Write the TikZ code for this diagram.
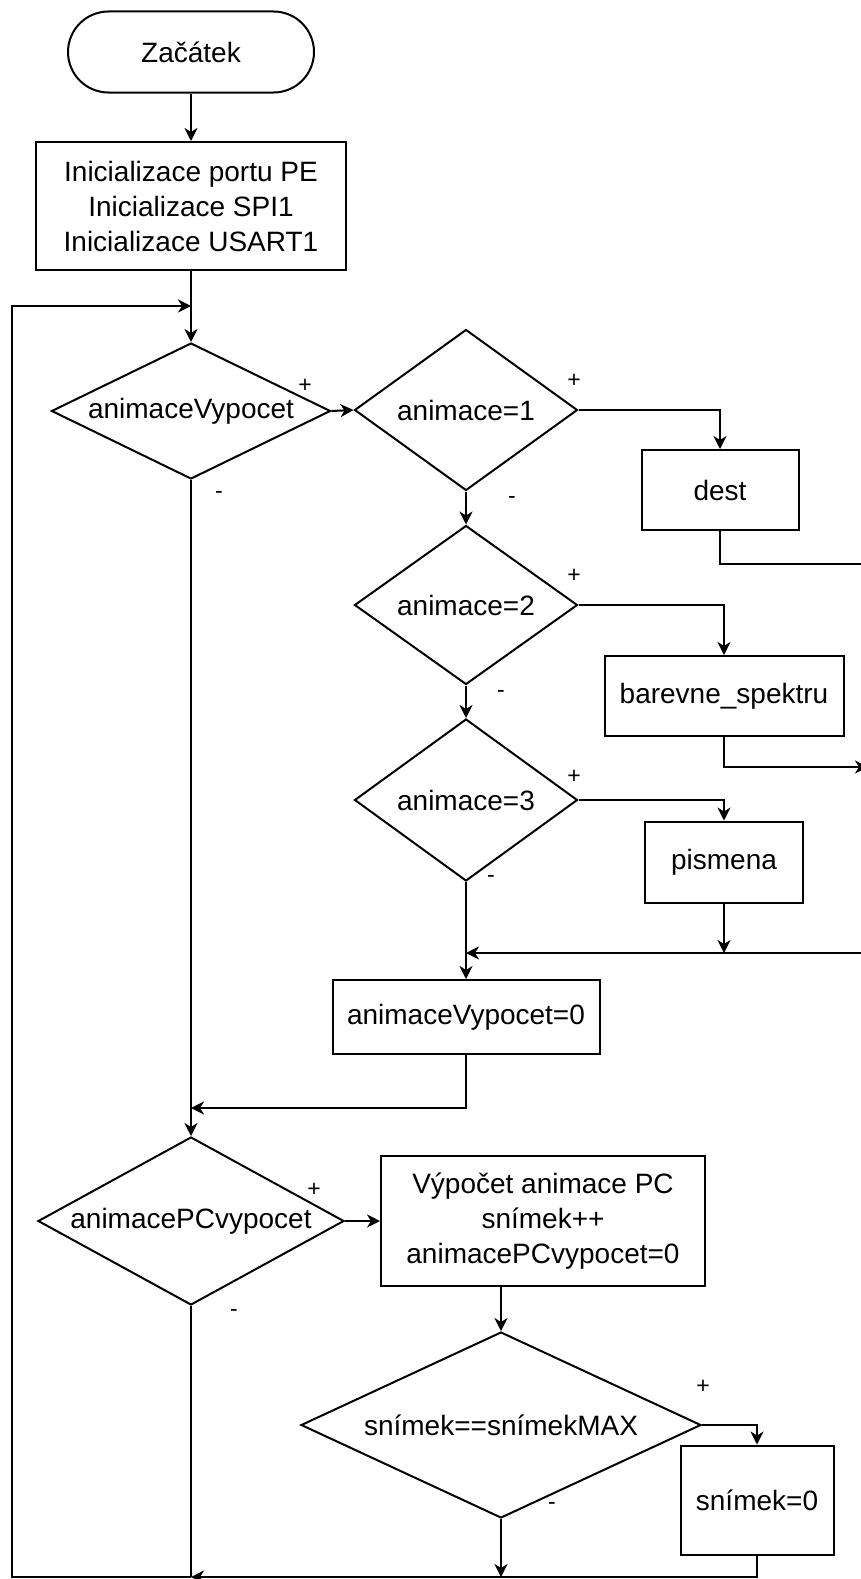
\documentclass[tikz,border=0pt]{standalone}
\usepackage{fontspec}
\setmainfont{Liberation Sans}
\usetikzlibrary{shapes.geometric,shapes.misc,arrows.meta}
\begin{document}
\begin{tikzpicture}[x=1pt,y=-1pt,line width=2pt,
  font=\fontsize{28}{35}\selectfont,
  term/.style={rounded rectangle, draw, inner sep=0pt},
  box/.style={rectangle, draw, align=center, inner sep=0pt},
  cond/.style={diamond, draw, inner sep=0pt},
  sign/.style={inner sep=0pt, font=\fontsize{23}{26}\selectfont},
  arr/.style={-{Stealth[length=13pt,width=13pt,inset=4pt]}}]
\useasboundingbox (0,0) rectangle (861,1579);
\clip (0,0) rectangle (861,1579);
\node[term, minimum width=246pt, minimum height=81pt] (start) at (191,52) {Začátek};
\node[box, minimum width=310pt, minimum height=128pt] (init) at (191,206) {Inicializace portu PE\\Inicializace SPI1\\Inicializace USART1};
\node[cond, minimum width=279pt, minimum height=136pt] (d1) at (191,411) {\makebox[0pt]{animaceVypocet}};
\node[cond, minimum width=223pt, minimum height=161pt] (d2) at (466,410) {\makebox[0pt]{animace=1}};
\node[box, minimum width=157pt, minimum height=80pt] (dest) at (720,490) {dest};
\node[cond, minimum width=223pt, minimum height=159pt] (d3) at (466,605) {\makebox[0pt]{animace=2}};
\node[box, minimum width=239pt, minimum height=80pt] (barevne) at (724,696) {barevne\_spektru};
\node[cond, minimum width=223pt, minimum height=162pt] (d4) at (466,800) {\makebox[0pt]{animace=3}};
\node[box, minimum width=158pt, minimum height=81pt] (pismena) at (724,862) {pismena};
\node[box, minimum width=267pt, minimum height=74pt] (av0) at (466,1017) {animaceVypocet=0};
\node[cond, minimum width=306pt, minimum height=168pt] (d5) at (191,1221) {\makebox[0pt]{animacePCvypocet}};
\node[box, minimum width=324pt, minimum height=130pt] (vpc) at (543,1221) {Výpočet animace PC\\snímek++\\animacePCvypocet=0};
\node[cond, minimum width=400pt, minimum height=186pt] (d6) at (501,1425) {\makebox[0pt]{snímek==snímekMAX}};
\node[box, minimum width=153pt, minimum height=109pt] (s0) at (757,1500) {snímek=0};
% vetve + a -
\node[sign] (p1) at (305,386) {+};
\node[sign] (m1) at (219,495) {-};
\node[sign] (p2) at (574,381) {+};
\node[sign] (m2) at (512,500) {-};
\node[sign] (p3) at (574,576) {+};
\node[sign] (m3) at (501,694) {-};
\node[sign] (p4) at (574,777) {+};
\node[sign] (m4) at (491,879) {-};
\node[sign] (p5) at (314,1190) {+};
\node[sign] (m5) at (234,1313) {-};
\node[sign] (p6) at (703,1387) {+};
\node[sign] (m6) at (552,1506) {-};
\coordinate (lpB) at (12,1577);
\coordinate (lpT) at (12,306);
\coordinate (trA) at (868,564);
\coordinate (trB) at (868,767);
\coordinate (trC) at (868,953);
\coordinate (mg) at (0,1108);
\draw[arr] (start) -- (init);
\draw[arr] (init) -- (d1);
\draw[arr] (d1.east) -- (d2.west);
\draw[arr] (d1.south) -- (d5.north);
\draw[arr] (d2.east) -| (dest.north);
\draw[arr] (d2.south) -- (d3.north);
\draw[arr] (d3.east) -| (barevne.north);
\draw[arr] (d3.south) -- (d4.north);
\draw[arr] (d4.east) -| (pismena.north);
\draw[arr] (d4.south) -- (av0.north);
\draw (dest.south) |- (trA) -- (trC);
\draw[arr] (barevne.south) |- (trB);
\draw[arr] (trC) -- (d4.south |- trC);
\draw[arr] (pismena.south) -- (pismena.south |- trC);
\draw[arr] (av0.south) -- (av0.south |- mg) -- (d1.south |- mg);
\draw[arr] (d5.east) -- (vpc.west);
\draw[arr] (d6.north |- vpc.south) -- (d6.north);
\draw[arr] (d6.east) -| (s0.north);
\draw[arr] (d6.south) -- (d6.south |- lpB);
\draw (d5.south) -- (d5.south |- lpB);
\draw[arr] (s0.south) |- (d5.south |- lpB);
\draw[arr] (d5.south |- lpB) -- (lpB) -- (lpT) -- (init.south |- lpT);
\end{tikzpicture}
\end{document}
